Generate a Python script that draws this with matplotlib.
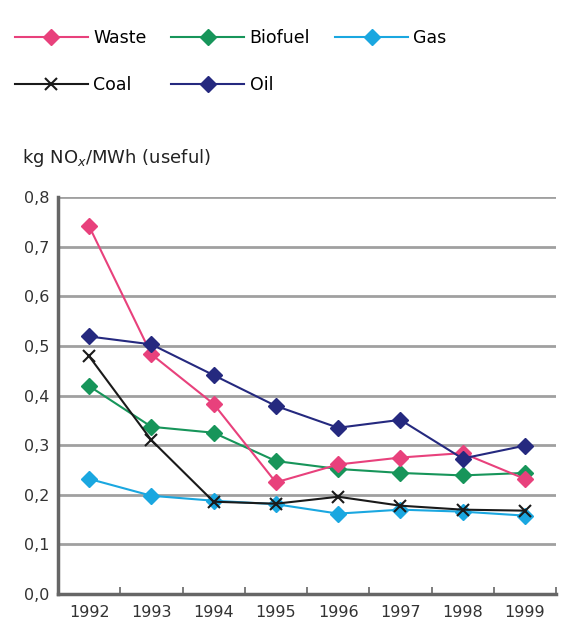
import numpy as np
import matplotlib.pyplot as plt
from matplotlib.lines import Line2D

years = ['1992', '1993', '1994', '1995', '1996', '1997', '1998', '1999']
waste = [0.741, 0.483, 0.383, 0.225, 0.261, 0.275, 0.284, 0.232]
biofuel = [0.419, 0.337, 0.325, 0.268, 0.252, 0.244, 0.239, 0.244]
gas = [0.232, 0.198, 0.188, 0.181, 0.162, 0.170, 0.166, 0.158]
coal = [0.479, 0.310, 0.186, 0.182, 0.196, 0.178, 0.170, 0.168]
oil = [0.519, 0.503, 0.441, 0.379, 0.335, 0.351, 0.273, 0.299]
yticks = [0.0, 0.1, 0.2, 0.3, 0.4, 0.5, 0.6, 0.7, 0.8]

c_waste = '#e8417c'
c_bio = '#17955a'
c_gas = '#1aa7e0'
c_coal = '#1a1a1a'
c_oil = '#25297f'

fig = plt.figure(figsize=(5.61, 6.23), dpi=100)
ax = fig.add_axes([0.1034, 0.0465, 0.8877, 0.6373])

x = np.arange(len(years))
ax.plot(x, gas, color=c_gas, marker='D', ms=8, lw=1.5, zorder=3)
ax.plot(x, biofuel, color=c_bio, marker='D', ms=8, lw=1.5, zorder=3)
ax.plot(x, waste, color=c_waste, marker='D', ms=8, lw=1.5, zorder=3)
ax.plot(x, coal, color=c_coal, marker='x', ms=9, mew=1.5, lw=1.5, zorder=4)
ax.plot(x, oil, color=c_oil, marker='D', ms=8, lw=1.5, zorder=5)

ax.set_xlim(-0.5, len(years) - 0.5)
ax.set_ylim(0, 0.8)
ax.set_yticks(yticks)
ax.set_yticklabels([f'{v:.1f}'.replace('.', ',') for v in yticks])
ax.set_xticks(x)
ax.set_xticklabels(years)
ax.set_xticks(np.arange(0.5, len(years), 1), minor=True)
ax.tick_params(axis='x', which='major', length=0, pad=8, labelsize=11.5, colors='#333333')
ax.tick_params(axis='x', which='minor', length=5, direction='in', color='#666666', width=1.2)
ax.tick_params(axis='y', length=0, pad=6, labelsize=11.5, colors='#333333')

for v in yticks[1:]:
    ax.axhline(v, color='#a0a0a0', lw=2, zorder=1)

for s in ['top', 'right']:
    ax.spines[s].set_visible(False)
for s in ['left', 'bottom']:
    ax.spines[s].set_color('#666666')
    ax.spines[s].set_linewidth(2.5)

fig.text(0.04, 0.746, 'kg NO$_x$/MWh (useful)', fontsize=13, color='#222222', va='center')

handles = [
    Line2D([], [], color=c_waste, marker='D', ms=8, lw=1.5),
    Line2D([], [], color=c_coal, marker='x', ms=9, mew=1.5, lw=1.5),
    Line2D([], [], color=c_bio, marker='D', ms=8, lw=1.5),
    Line2D([], [], color=c_oil, marker='D', ms=8, lw=1.5),
    Line2D([], [], color=c_gas, marker='D', ms=8, lw=1.5),
]
labels = ['Waste', 'Coal', 'Biofuel', 'Oil', 'Gas']
fig.legend(handles, labels, ncol=3, loc='upper left', bbox_to_anchor=(0.014, 0.965),
           borderaxespad=0, frameon=False, fontsize=12.5, handlelength=4.2,
           handletextpad=0.3, columnspacing=1.45, labelspacing=1.67)

fig.savefig('out.png', dpi=100)
